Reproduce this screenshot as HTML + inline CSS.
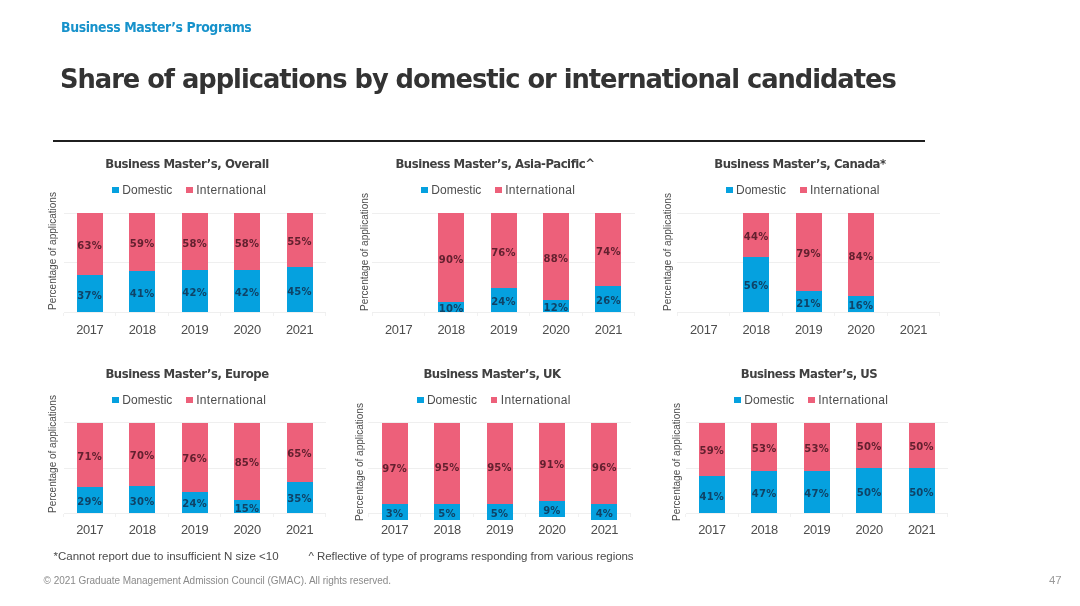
<!DOCTYPE html>
<html lang="en">
<head>
<meta charset="utf-8">
<title>Share of applications by domestic or international candidates</title>
<style>
html,body{margin:0;padding:0;background:#fff;}
body{width:1080px;height:606px;position:relative;overflow:hidden;font-family:"Liberation Sans",sans-serif;}
.abs,.chart *{position:absolute;}
.sub{position:absolute;left:61.4px;top:19.8px;font:bold 13.2px/16px "DejaVu Sans","Liberation Sans",sans-serif;color:#1792cb;white-space:nowrap;letter-spacing:-0.033em;transform:scaleX(0.95);transform-origin:0 0;}
h1{position:absolute;margin:0;left:60.3px;top:62.7px;font:bold 27.3px/32px "DejaVu Sans","Liberation Sans",sans-serif;color:#333;white-space:nowrap;letter-spacing:-0.04em;transform:scaleX(0.9432);transform-origin:0 0;}
.rule{position:absolute;left:52.5px;top:139.7px;width:872px;height:2.4px;background:#1f1f1f;}
.ct{width:300px;text-align:center;font:bold 12.3px/16px "DejaVu Sans","Liberation Sans",sans-serif;color:#404040;white-space:nowrap;letter-spacing:-0.04em;transform:scaleX(0.95);transform-origin:50% 0;}
.sq{width:6.8px;height:6.6px;display:block;}
.lg{font:12px/16px "Liberation Sans",sans-serif;color:#4d4d4d;white-space:nowrap;}
.li{letter-spacing:0.3px;}
.yl{width:0;height:0;}
.yl span{position:absolute;left:-70px;top:-8px;width:140px;text-align:center;font:10px/16px "Liberation Sans",sans-serif;color:#4d4d4d;white-space:nowrap;transform:rotate(-90deg);transform-origin:50% 50%;display:block;}
.gl{height:1px;background:#efefef;display:block;}
.tk{width:1px;height:3.5px;background:#f1f1f1;display:block;}
.b{display:block;}
.yr{width:40px;text-align:center;font:12.9px/16px "Liberation Sans",sans-serif;color:#4d4d4d;letter-spacing:-0.35px;}
.dl{width:40px;text-align:center;font:bold 10px/12px "DejaVu Sans","Liberation Sans",sans-serif;white-space:nowrap;letter-spacing:0.25px;}
.p{color:#63202f;}
.bl{color:#0f4367;}
.fn{position:absolute;top:547.6px;font:11.5px/16px "Liberation Sans",sans-serif;color:#4a4a4a;white-space:nowrap;}
.cp{position:absolute;left:43.5px;top:572.5px;font:10px/16px "Liberation Sans",sans-serif;color:#8a8a8a;white-space:nowrap;letter-spacing:-0.03px;}
.cp .c{margin-right:2.8px;}
.pn{position:absolute;left:1049px;top:572px;font:11.4px/16px "Liberation Sans",sans-serif;color:#9a9a9a;}
</style>
</head>
<body>
<div class="sub">Business Master’s Programs</div>
<h1>Share of applications by domestic or international candidates</h1>
<div class="rule"></div>
<div class="chart">
<div class="ct" style="left:37.0px;top:156.0px">Business Master’s, Overall</div>
<i class="sq" style="left:112.4px;top:186.7px;background:#05a1df"></i>
<span class="lg" style="left:122.3px;top:182.0px">Domestic</span>
<i class="sq" style="left:186.1px;top:186.7px;background:#ed607a"></i>
<span class="lg li" style="left:196.2px;top:182.0px">International</span>
<div class="yl" style="left:52.8px;top:251.0px"><span>Percentage of applications</span></div>
<i class="gl" style="left:63.5px;top:212.5px;width:262.2px"></i>
<i class="gl" style="left:63.5px;top:262.0px;width:262.2px"></i>
<i class="gl" style="left:63.5px;top:312.0px;width:262.2px"></i>
<i class="tk" style="left:63.0px;top:312.5px"></i>
<i class="tk" style="left:115.4px;top:312.5px"></i>
<i class="tk" style="left:167.9px;top:312.5px"></i>
<i class="tk" style="left:220.3px;top:312.5px"></i>
<i class="tk" style="left:272.8px;top:312.5px"></i>
<i class="tk" style="left:325.2px;top:312.5px"></i>
<span class="yr" style="left:69.8px;top:322.4px">2017</span>
<i class="b" style="left:76.7px;top:213.0px;width:26.0px;height:62.4px;background:#ed607a"></i>
<i class="b" style="left:76.7px;top:275.4px;width:26.0px;height:36.6px;background:#05a1df"></i>
<span class="dl p" style="left:69.7px;top:240px">63%</span>
<span class="dl bl" style="left:69.7px;top:290px">37%</span>
<span class="yr" style="left:122.3px;top:322.4px">2018</span>
<i class="b" style="left:129.2px;top:213.0px;width:26.0px;height:58.4px;background:#ed607a"></i>
<i class="b" style="left:129.2px;top:271.4px;width:26.0px;height:40.6px;background:#05a1df"></i>
<span class="dl p" style="left:122.2px;top:238px">59%</span>
<span class="dl bl" style="left:122.2px;top:288px">41%</span>
<span class="yr" style="left:174.7px;top:322.4px">2019</span>
<i class="b" style="left:181.6px;top:213.0px;width:26.0px;height:57.4px;background:#ed607a"></i>
<i class="b" style="left:181.6px;top:270.4px;width:26.0px;height:41.6px;background:#05a1df"></i>
<span class="dl p" style="left:174.6px;top:238px">58%</span>
<span class="dl bl" style="left:174.6px;top:287px">42%</span>
<span class="yr" style="left:227.1px;top:322.4px">2020</span>
<i class="b" style="left:234.0px;top:213.0px;width:26.0px;height:57.4px;background:#ed607a"></i>
<i class="b" style="left:234.0px;top:270.4px;width:26.0px;height:41.6px;background:#05a1df"></i>
<span class="dl p" style="left:227.0px;top:238px">58%</span>
<span class="dl bl" style="left:227.0px;top:287px">42%</span>
<span class="yr" style="left:279.6px;top:322.4px">2021</span>
<i class="b" style="left:286.5px;top:213.0px;width:26.0px;height:54.4px;background:#ed607a"></i>
<i class="b" style="left:286.5px;top:267.4px;width:26.0px;height:44.6px;background:#05a1df"></i>
<span class="dl p" style="left:279.5px;top:236px">55%</span>
<span class="dl bl" style="left:279.5px;top:286px">45%</span>
</div>
<div class="chart">
<div class="ct" style="left:345.2px;top:156.0px">Business Master’s, Asia-Pacific^</div>
<i class="sq" style="left:421.4px;top:186.7px;background:#05a1df"></i>
<span class="lg" style="left:431.3px;top:182.0px">Domestic</span>
<i class="sq" style="left:495.1px;top:186.7px;background:#ed607a"></i>
<span class="lg li" style="left:505.2px;top:182.0px">International</span>
<div class="yl" style="left:364.7px;top:252.2px"><span>Percentage of applications</span></div>
<i class="gl" style="left:372.4px;top:212.5px;width:262.2px"></i>
<i class="gl" style="left:372.4px;top:262.0px;width:262.2px"></i>
<i class="gl" style="left:372.4px;top:312.0px;width:262.2px"></i>
<i class="tk" style="left:371.9px;top:312.5px"></i>
<i class="tk" style="left:424.3px;top:312.5px"></i>
<i class="tk" style="left:476.8px;top:312.5px"></i>
<i class="tk" style="left:529.2px;top:312.5px"></i>
<i class="tk" style="left:581.7px;top:312.5px"></i>
<i class="tk" style="left:634.1px;top:312.5px"></i>
<span class="yr" style="left:378.7px;top:322.4px">2017</span>
<span class="yr" style="left:431.2px;top:322.4px">2018</span>
<i class="b" style="left:438.1px;top:213.0px;width:26.0px;height:89.1px;background:#ed607a"></i>
<i class="b" style="left:438.1px;top:302.1px;width:26.0px;height:9.9px;background:#05a1df"></i>
<span class="dl p" style="left:431.1px;top:254px">90%</span>
<span class="dl bl" style="left:431.1px;top:303px">10%</span>
<span class="yr" style="left:483.6px;top:322.4px">2019</span>
<i class="b" style="left:490.5px;top:213.0px;width:26.0px;height:75.2px;background:#ed607a"></i>
<i class="b" style="left:490.5px;top:288.2px;width:26.0px;height:23.8px;background:#05a1df"></i>
<span class="dl p" style="left:483.5px;top:247px">76%</span>
<span class="dl bl" style="left:483.5px;top:296px">24%</span>
<span class="yr" style="left:536.0px;top:322.4px">2020</span>
<i class="b" style="left:542.9px;top:213.0px;width:26.0px;height:87.1px;background:#ed607a"></i>
<i class="b" style="left:542.9px;top:300.1px;width:26.0px;height:11.9px;background:#05a1df"></i>
<span class="dl p" style="left:535.9px;top:253px">88%</span>
<span class="dl bl" style="left:535.9px;top:302px">12%</span>
<span class="yr" style="left:588.5px;top:322.4px">2021</span>
<i class="b" style="left:595.4px;top:213.0px;width:26.0px;height:73.3px;background:#ed607a"></i>
<i class="b" style="left:595.4px;top:286.3px;width:26.0px;height:25.7px;background:#05a1df"></i>
<span class="dl p" style="left:588.4px;top:246px">74%</span>
<span class="dl bl" style="left:588.4px;top:295px">26%</span>
</div>
<div class="chart">
<div class="ct" style="left:650.4px;top:156.0px">Business Master’s, Canada*</div>
<i class="sq" style="left:726.1px;top:186.7px;background:#05a1df"></i>
<span class="lg" style="left:736.0px;top:182.0px">Domestic</span>
<i class="sq" style="left:799.8px;top:186.7px;background:#ed607a"></i>
<span class="lg li" style="left:809.9px;top:182.0px">International</span>
<div class="yl" style="left:668.2px;top:252.2px"><span>Percentage of applications</span></div>
<i class="gl" style="left:677.4px;top:212.5px;width:262.2px"></i>
<i class="gl" style="left:677.4px;top:262.0px;width:262.2px"></i>
<i class="gl" style="left:677.4px;top:312.0px;width:262.2px"></i>
<i class="tk" style="left:676.9px;top:312.5px"></i>
<i class="tk" style="left:729.3px;top:312.5px"></i>
<i class="tk" style="left:781.8px;top:312.5px"></i>
<i class="tk" style="left:834.2px;top:312.5px"></i>
<i class="tk" style="left:886.7px;top:312.5px"></i>
<i class="tk" style="left:939.1px;top:312.5px"></i>
<span class="yr" style="left:683.7px;top:322.4px">2017</span>
<span class="yr" style="left:736.2px;top:322.4px">2018</span>
<i class="b" style="left:743.1px;top:213.0px;width:26.0px;height:43.6px;background:#ed607a"></i>
<i class="b" style="left:743.1px;top:256.6px;width:26.0px;height:55.4px;background:#05a1df"></i>
<span class="dl p" style="left:736.1px;top:231px">44%</span>
<span class="dl bl" style="left:736.1px;top:280px">56%</span>
<span class="yr" style="left:788.6px;top:322.4px">2019</span>
<i class="b" style="left:795.5px;top:213.0px;width:26.0px;height:78.2px;background:#ed607a"></i>
<i class="b" style="left:795.5px;top:291.2px;width:26.0px;height:20.8px;background:#05a1df"></i>
<span class="dl p" style="left:788.5px;top:248px">79%</span>
<span class="dl bl" style="left:788.5px;top:298px">21%</span>
<span class="yr" style="left:841.0px;top:322.4px">2020</span>
<i class="b" style="left:847.9px;top:213.0px;width:26.0px;height:83.2px;background:#ed607a"></i>
<i class="b" style="left:847.9px;top:296.2px;width:26.0px;height:15.8px;background:#05a1df"></i>
<span class="dl p" style="left:840.9px;top:251px">84%</span>
<span class="dl bl" style="left:840.9px;top:300px">16%</span>
<span class="yr" style="left:893.5px;top:322.4px">2021</span>
</div>
<div class="chart">
<div class="ct" style="left:37.2px;top:366.3px">Business Master’s, Europe</div>
<i class="sq" style="left:112.4px;top:396.7px;background:#05a1df"></i>
<span class="lg" style="left:122.3px;top:392.0px">Domestic</span>
<i class="sq" style="left:186.1px;top:396.7px;background:#ed607a"></i>
<span class="lg li" style="left:196.2px;top:392.0px">International</span>
<div class="yl" style="left:52.6px;top:454.1px"><span>Percentage of applications</span></div>
<i class="gl" style="left:63.5px;top:421.8px;width:262.2px"></i>
<i class="gl" style="left:63.5px;top:467.7px;width:262.2px"></i>
<i class="gl" style="left:63.5px;top:513.1px;width:262.2px"></i>
<i class="tk" style="left:63.0px;top:513.6px"></i>
<i class="tk" style="left:115.4px;top:513.6px"></i>
<i class="tk" style="left:167.9px;top:513.6px"></i>
<i class="tk" style="left:220.3px;top:513.6px"></i>
<i class="tk" style="left:272.8px;top:513.6px"></i>
<i class="tk" style="left:325.2px;top:513.6px"></i>
<span class="yr" style="left:69.8px;top:522.0px">2017</span>
<i class="b" style="left:76.7px;top:422.8px;width:26.0px;height:64.3px;background:#ed607a"></i>
<i class="b" style="left:76.7px;top:487.1px;width:26.0px;height:26.2px;background:#05a1df"></i>
<span class="dl p" style="left:69.7px;top:451px">71%</span>
<span class="dl bl" style="left:69.7px;top:496px">29%</span>
<span class="yr" style="left:122.3px;top:522.0px">2018</span>
<i class="b" style="left:129.2px;top:422.8px;width:26.0px;height:63.3px;background:#ed607a"></i>
<i class="b" style="left:129.2px;top:486.1px;width:26.0px;height:27.1px;background:#05a1df"></i>
<span class="dl p" style="left:122.2px;top:450px">70%</span>
<span class="dl bl" style="left:122.2px;top:496px">30%</span>
<span class="yr" style="left:174.7px;top:522.0px">2019</span>
<i class="b" style="left:181.6px;top:422.8px;width:26.0px;height:68.8px;background:#ed607a"></i>
<i class="b" style="left:181.6px;top:491.6px;width:26.0px;height:21.7px;background:#05a1df"></i>
<span class="dl p" style="left:174.6px;top:453px">76%</span>
<span class="dl bl" style="left:174.6px;top:498px">24%</span>
<span class="yr" style="left:227.1px;top:522.0px">2020</span>
<i class="b" style="left:234.0px;top:422.8px;width:26.0px;height:76.9px;background:#ed607a"></i>
<i class="b" style="left:234.0px;top:499.7px;width:26.0px;height:13.6px;background:#05a1df"></i>
<span class="dl p" style="left:227.0px;top:457px">85%</span>
<span class="dl bl" style="left:227.0px;top:503px">15%</span>
<span class="yr" style="left:279.6px;top:522.0px">2021</span>
<i class="b" style="left:286.5px;top:422.8px;width:26.0px;height:58.8px;background:#ed607a"></i>
<i class="b" style="left:286.5px;top:481.6px;width:26.0px;height:31.7px;background:#05a1df"></i>
<span class="dl p" style="left:279.5px;top:448px">65%</span>
<span class="dl bl" style="left:279.5px;top:493px">35%</span>
</div>
<div class="chart">
<div class="ct" style="left:341.7px;top:366.3px">Business Master’s, UK</div>
<i class="sq" style="left:417.0px;top:396.7px;background:#05a1df"></i>
<span class="lg" style="left:426.9px;top:392.0px">Domestic</span>
<i class="sq" style="left:490.7px;top:396.7px;background:#ed607a"></i>
<span class="lg li" style="left:500.8px;top:392.0px">International</span>
<div class="yl" style="left:359.7px;top:462.3px"><span>Percentage of applications</span></div>
<i class="gl" style="left:368.4px;top:421.8px;width:262.2px"></i>
<i class="gl" style="left:368.4px;top:467.7px;width:262.2px"></i>
<i class="gl" style="left:368.4px;top:513.1px;width:262.2px"></i>
<i class="tk" style="left:367.9px;top:513.6px"></i>
<i class="tk" style="left:420.3px;top:513.6px"></i>
<i class="tk" style="left:472.8px;top:513.6px"></i>
<i class="tk" style="left:525.2px;top:513.6px"></i>
<i class="tk" style="left:577.7px;top:513.6px"></i>
<i class="tk" style="left:630.1px;top:513.6px"></i>
<span class="yr" style="left:374.7px;top:522.0px">2017</span>
<i class="b" style="left:381.6px;top:422.8px;width:26.0px;height:80.9px;background:#ed607a"></i>
<i class="b" style="left:381.6px;top:503.7px;width:26.0px;height:15.9px;background:#05a1df"></i>
<span class="dl p" style="left:374.6px;top:463px">97%</span>
<span class="dl bl" style="left:374.6px;top:508px">3%</span>
<span class="yr" style="left:427.2px;top:522.0px">2018</span>
<i class="b" style="left:434.1px;top:422.8px;width:26.0px;height:80.9px;background:#ed607a"></i>
<i class="b" style="left:434.1px;top:503.7px;width:26.0px;height:15.9px;background:#05a1df"></i>
<span class="dl p" style="left:427.1px;top:462px">95%</span>
<span class="dl bl" style="left:427.1px;top:508px">5%</span>
<span class="yr" style="left:479.6px;top:522.0px">2019</span>
<i class="b" style="left:486.5px;top:422.8px;width:26.0px;height:80.9px;background:#ed607a"></i>
<i class="b" style="left:486.5px;top:503.7px;width:26.0px;height:15.9px;background:#05a1df"></i>
<span class="dl p" style="left:479.5px;top:462px">95%</span>
<span class="dl bl" style="left:479.5px;top:508px">5%</span>
<span class="yr" style="left:532.0px;top:522.0px">2020</span>
<i class="b" style="left:538.9px;top:422.8px;width:26.0px;height:78.6px;background:#ed607a"></i>
<i class="b" style="left:538.9px;top:501.4px;width:26.0px;height:16.0px;background:#05a1df"></i>
<span class="dl p" style="left:531.9px;top:459px">91%</span>
<span class="dl bl" style="left:531.9px;top:505px">9%</span>
<span class="yr" style="left:584.5px;top:522.0px">2021</span>
<i class="b" style="left:591.4px;top:422.8px;width:26.0px;height:80.9px;background:#ed607a"></i>
<i class="b" style="left:591.4px;top:503.7px;width:26.0px;height:15.9px;background:#05a1df"></i>
<span class="dl p" style="left:584.4px;top:462px">96%</span>
<span class="dl bl" style="left:584.4px;top:508px">4%</span>
</div>
<div class="chart">
<div class="ct" style="left:659.2px;top:366.3px">Business Master’s, US</div>
<i class="sq" style="left:734.4px;top:396.7px;background:#05a1df"></i>
<span class="lg" style="left:744.3px;top:392.0px">Domestic</span>
<i class="sq" style="left:808.1px;top:396.7px;background:#ed607a"></i>
<span class="lg li" style="left:818.2px;top:392.0px">International</span>
<div class="yl" style="left:676.5px;top:461.8px"><span>Percentage of applications</span></div>
<i class="gl" style="left:685.5px;top:421.8px;width:262.2px"></i>
<i class="gl" style="left:685.5px;top:467.7px;width:262.2px"></i>
<i class="gl" style="left:685.5px;top:513.1px;width:262.2px"></i>
<i class="tk" style="left:685.0px;top:513.6px"></i>
<i class="tk" style="left:737.5px;top:513.6px"></i>
<i class="tk" style="left:789.9px;top:513.6px"></i>
<i class="tk" style="left:842.4px;top:513.6px"></i>
<i class="tk" style="left:894.8px;top:513.6px"></i>
<i class="tk" style="left:947.2px;top:513.6px"></i>
<span class="yr" style="left:691.9px;top:522.0px">2017</span>
<i class="b" style="left:698.8px;top:422.8px;width:26.0px;height:53.4px;background:#ed607a"></i>
<i class="b" style="left:698.8px;top:476.2px;width:26.0px;height:37.1px;background:#05a1df"></i>
<span class="dl p" style="left:691.8px;top:445px">59%</span>
<span class="dl bl" style="left:691.8px;top:491px">41%</span>
<span class="yr" style="left:744.3px;top:522.0px">2018</span>
<i class="b" style="left:751.2px;top:422.8px;width:26.0px;height:48.0px;background:#ed607a"></i>
<i class="b" style="left:751.2px;top:470.8px;width:26.0px;height:42.5px;background:#05a1df"></i>
<span class="dl p" style="left:744.2px;top:443px">53%</span>
<span class="dl bl" style="left:744.2px;top:488px">47%</span>
<span class="yr" style="left:796.8px;top:522.0px">2019</span>
<i class="b" style="left:803.6px;top:422.8px;width:26.0px;height:48.0px;background:#ed607a"></i>
<i class="b" style="left:803.6px;top:470.8px;width:26.0px;height:42.5px;background:#05a1df"></i>
<span class="dl p" style="left:796.6px;top:443px">53%</span>
<span class="dl bl" style="left:796.6px;top:488px">47%</span>
<span class="yr" style="left:849.2px;top:522.0px">2020</span>
<i class="b" style="left:856.1px;top:422.8px;width:26.0px;height:45.2px;background:#ed607a"></i>
<i class="b" style="left:856.1px;top:468.0px;width:26.0px;height:45.2px;background:#05a1df"></i>
<span class="dl p" style="left:849.1px;top:441px">50%</span>
<span class="dl bl" style="left:849.1px;top:487px">50%</span>
<span class="yr" style="left:901.6px;top:522.0px">2021</span>
<i class="b" style="left:908.5px;top:422.8px;width:26.0px;height:45.2px;background:#ed607a"></i>
<i class="b" style="left:908.5px;top:468.0px;width:26.0px;height:45.2px;background:#05a1df"></i>
<span class="dl p" style="left:901.5px;top:441px">50%</span>
<span class="dl bl" style="left:901.5px;top:487px">50%</span>
</div>
<div class="fn" style="left:53.5px">*Cannot report due to insufficient N size &lt;10</div>
<div class="fn" style="left:308.5px;letter-spacing:-0.06px">^ Reflective of type of programs responding from various regions</div>
<div class="cp"><span class="c">©</span>2021 Graduate Management Admission Council (GMAC). All rights reserved.</div>
<div class="pn">47</div>
</body>
</html>
